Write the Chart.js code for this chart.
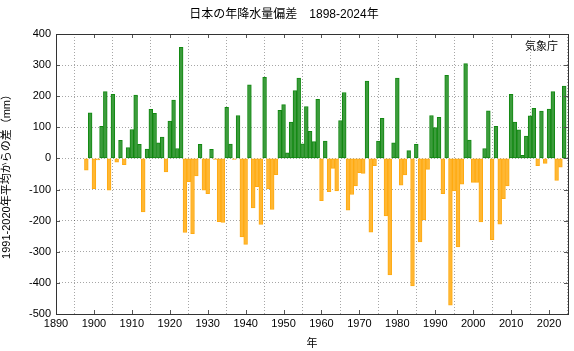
<!DOCTYPE html>
<html>
<head>
<meta charset="utf-8">
<script src="https://cdn.jsdelivr.net/npm/chart.js@4/dist/chart.umd.min.js"></script>
<style>
  html, body { margin: 0; padding: 0; background: #fff; }
  #wrap { width: 574px; height: 351px; }
</style>
</head>
<body>
<div id="wrap"><canvas id="rainChart" width="574" height="351"></canvas></div>
<script>
const firstYear = 1898;
const lastYear  = 2024;
const years = [];
for (let y = firstYear; y <= lastYear; y++) years.push(y);

// anomaly vs 1991-2020 normal (mm), 1898..2024
const anomaly = [
  -38, 147, -97, -5, 103, 215, -102, 206, -12, 58,            // 1898-1907
  -20, 35, 93, 204, 45, -172, 30, 158, 145, 50,               // 1908-1917
  69, -43, 120, 188, 32, 357, -238, -75, -242, -56,           // 1918-1927
  45, -102, -113, 29, -3, -203, -206, 164, 46, -3,            // 1928-1937
  138, -252, -276, 237, -159, -91, -212, 261, -98, -164,      // 1938-1947
  -52, 155, 173, 18, 117, 218, 258, 47, 167, 87,              // 1948-1957
  54, 190, -136, 56, -107, -32, -104, 122, 212, -166,         // 1958-1967
  -116, -88, -46, -48, 249, -237, -23, 56, 129, -185,         // 1968-1977
  -374, 50, 258, -86, -53, 25, -410, 45, -268, -198,          // 1978-1987
  -35, 138, 99, 132, -113, 267, -472, -104, -284, -83,        // 1988-1997
  305, 59, -77, -77, -204, 32, 153, -261, 103, -211,          // 1998-2007
  -129, -88, 206, 117, 92, 10, 72, 137, 161, -23,             // 2008-2017
  152, -16, 159, 215, -71, -28, 233                           // 2018-2024
];

const xTicks = [1890, 1900, 1910, 1920, 1930, 1940, 1950, 1960, 1970, 1980, 1990, 2000, 2010, 2020];
const xMin = 1890, xMax = 2025;
const yMin = -500, yMax = 400, yStep = 100;

const titleText  = '日本の年降水量偏差　1898-2024年';
const yAxisTitle = '1991-2020年平均からの差（mm）';
const xAxisTitle = '年';
const sourceText = '気象庁';

const FONT = "'Liberation Sans', 'Noto Sans CJK JP', sans-serif";

const greenFill = '#3c9c3c', greenLine = '#118811';
const orangeFill = '#ffb733', orangeLine = '#ffaa11';

// frame, inward tick marks and source label (gnuplot look)
const framePlugin = {
  id: 'frame',
  afterDraw(chart) {
    const { ctx, chartArea: a, scales } = chart;
    ctx.save();
    ctx.strokeStyle = '#555';
    ctx.lineWidth = 1;
    const len = 4;
    ctx.beginPath();
    scales.x.ticks.forEach(t => {
      const px = Math.round(scales.x.getPixelForValue(t.value)) + 0.5;
      ctx.moveTo(px, a.top); ctx.lineTo(px, a.top + len);
      ctx.moveTo(px, a.bottom); ctx.lineTo(px, a.bottom - len);
    });
    scales.y.ticks.forEach(t => {
      const py = Math.round(scales.y.getPixelForValue(t.value)) + 0.5;
      ctx.moveTo(a.left, py); ctx.lineTo(a.left + len, py);
      ctx.moveTo(a.right, py); ctx.lineTo(a.right - len, py);
    });
    ctx.stroke();
    ctx.strokeStyle = '#333';
    ctx.strokeRect(Math.round(a.left) + 0.5, Math.round(a.top) + 0.5,
                   Math.round(a.right - a.left), Math.round(a.bottom - a.top));
    ctx.fillStyle = '#000';
    ctx.font = '11px ' + FONT;
    ctx.textAlign = 'right';
    ctx.textBaseline = 'middle';
    ctx.fillText(sourceText, a.right - 10, a.top + 13);
    ctx.restore();
  }
};

new Chart(document.getElementById('rainChart'), {
  type: 'bar',
  data: {
    datasets: [{
      data: years.map((y, i) => ({ x: y, y: anomaly[i] })),
      backgroundColor: c => (c.raw && c.raw.y >= 0) ? greenFill : orangeFill,
      borderColor: c => (c.raw && c.raw.y >= 0) ? greenLine : orangeLine,
      borderWidth: 1,
      borderSkipped: false,
      barPercentage: 1,
      categoryPercentage: 1
    }]
  },
  options: {
    responsive: false,
    animation: false,
    layout: { padding: { left: 0, right: 6, top: 0, bottom: 0 } },
    plugins: {
      legend: { display: false },
      tooltip: { enabled: false },
      title: {
        display: true,
        text: titleText,
        color: '#000',
        font: { family: FONT, size: 12, weight: 'normal' },
        padding: { top: 7, bottom: 12.6 }
      }
    },
    scales: {
      x: {
        type: 'linear',
        offset: false,
        min: xMin,
        max: xMax,
        afterBuildTicks: s => { s.ticks = xTicks.map(v => ({ value: v })); },
        afterFit: s => { s.height = 37; },
        ticks: {
          autoSkip: false,
          color: '#000',
          padding: 3,
          maxRotation: 0,
          font: { family: FONT, size: 11 },
          callback: v => String(v)
        },
        grid: { color: 'rgba(0,0,0,0.35)', drawTicks: false },
        border: { display: false, dash: [1, 2] },
        title: {
          display: true,
          text: xAxisTitle,
          color: '#000',
          font: { family: FONT, size: 11 },
          padding: { top: 2, bottom: 0 }
        }
      },
      y: {
        min: yMin,
        max: yMax,
        afterFit: s => { s.width = 56; },
        ticks: {
          stepSize: yStep,
          color: '#000',
          padding: 5,
          font: { family: FONT, size: 11 }
        },
        grid: { color: 'rgba(0,0,0,0.35)', drawTicks: false },
        border: { display: false, dash: [1, 2] },
        title: {
          display: true,
          text: yAxisTitle,
          color: '#000',
          font: { family: FONT, size: 11 },
          padding: { top: 0, bottom: 0 }
        }
      }
    }
  },
  plugins: [framePlugin]
});
</script>
</body>
</html>
